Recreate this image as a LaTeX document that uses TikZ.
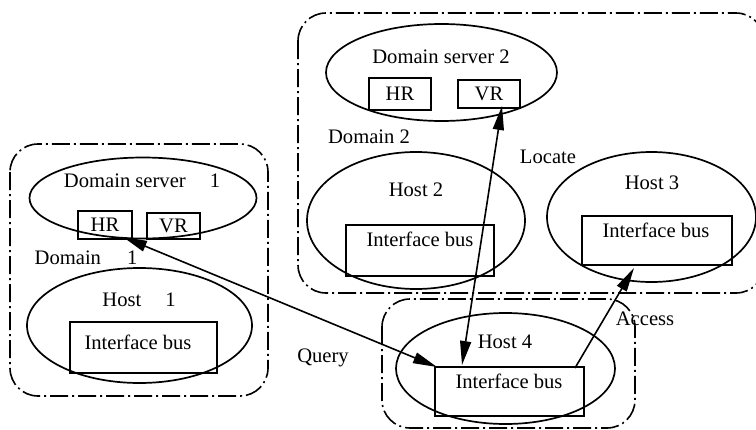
\documentclass[tikz,border=0pt]{standalone}
\usepackage{fontspec}
\setmainfont{Liberation Serif}
\usetikzlibrary{arrows.meta,calc,shapes.geometric}
\begin{document}
\begin{tikzpicture}[x=0.5pt,y=-0.5pt,
  every node/.style={font=\fontsize{10.3}{12}\selectfont, inner sep=0pt, outer sep=0pt},
  sz/.style 2 args={minimum width=#1*0.5pt, minimum height=#2*0.5pt},
  ell/.style={draw, ellipse, line width=0.85pt},
  boxn/.style={draw, rectangle, line width=0.85pt},
  dom/.style={line width=0.8pt, dash pattern=on 9pt off 2pt on 1pt off 2pt, rounded corners=14pt},
  tip/.style={Triangle[length=12pt,width=5.5pt]},
  conn/.style={line width=0.8pt, -{Triangle[length=12pt,width=5.5pt]}},
  bconn/.style={line width=0.8pt, {Triangle[length=12pt,width=5.5pt]}-{Triangle[length=12pt,width=5.5pt]}}]
\useasboundingbox (0,0) rectangle (756,429);
% domain frames
\draw[dom] (10,144) rectangle (268,396);
\draw[dom] (298,13) rectangle (764,293);
\draw[dom] (382,299) rectangle (635,428);
% domain 1
\node[ell, sz={227}{81}] (ds1) at (143,198) {};
\node (ds1t) at (142,181) {Domain server\hspace{12pt}1};
\node[boxn, sz={54}{28}] (hr1) at (105,225) {HR};
\node[boxn, sz={53}{26}] (vr1) at (173.5,226) {VR};
\node (d1t) at (86,258) {Domain\hspace{13pt}1};
\node[ell, sz={225}{115}] (h1) at (139.5,325.5) {};
\node (h1t) at (139,300) {Host\hspace{12pt}1};
\node[boxn, sz={147}{51}] (bus1) at (143.5,347.5) {};
\node (bus1t) at (138,342) {Interface bus};
% domain 2
\node[ell, sz={231}{97}] (ds2) at (441.5,72.5) {};
\node (ds2t) at (441,57) {Domain server 2};
\node[boxn, sz={62}{32}] (hr2) at (400,94) {HR};
\node[boxn, sz={62}{28}] (vr2) at (489,94) {VR};
\node (d2t) at (369,137) {Domain 2};
\node (loc) at (548,157) {Locate};
\node[ell, sz={218}{137}] (h2) at (416,220.5) {};
\node (h2t) at (416,190) {Host 2};
\node[boxn, sz={148}{51}] (bus2) at (420,250.5) {};
\node (bus2t) at (420,239) {Interface bus};
\node[ell, sz={209}{130}] (h3) at (651.5,217) {};
\node (h3t) at (652,183) {Host 3};
\node[boxn, sz={150}{49}] (bus3) at (657,240.5) {};
\node (bus3t) at (656,230) {Interface bus};
% host 4
\node[ell, sz={219}{111}] (h4) at (505.5,368.5) {};
\node (h4t) at (505,342) {Host 4};
\node[boxn, sz={149}{49}] (bus4) at (509.5,391.5) {};
\node (bus4t) at (509,381) {Interface bus};
\node (qry) at (323,358) {Query};
\node (acc) at (645,319) {Access};
% connectors
\draw[bconn] ($(bus4.north west)+(2,0)$) -- ($(hr1.south east)+(-9,-2)$);
\draw[bconn] ($(bus4.north west)+(27,-2)$) -- ($(vr2.south)+(13,-2)$);
\draw[conn] ($(bus4.north east)+(-9,1)$) -- ($(bus3.south)+(-23,3)$);
\end{tikzpicture}
\end{document}
